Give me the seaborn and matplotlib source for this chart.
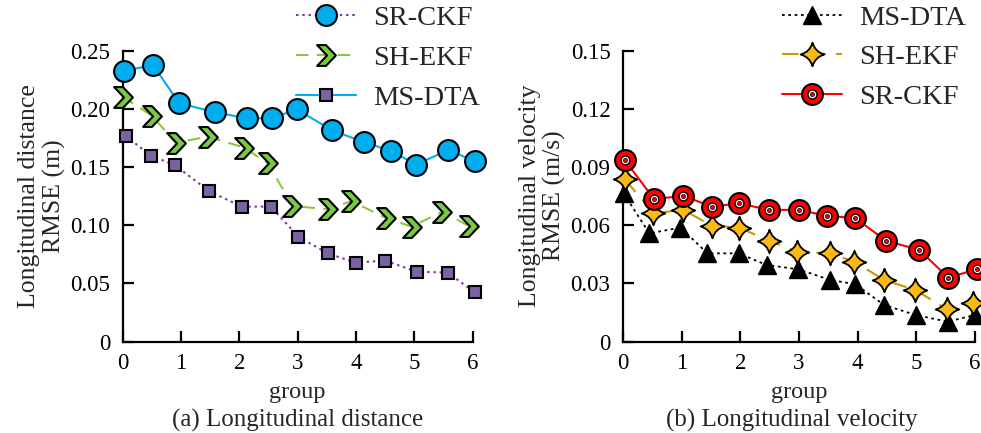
import numpy as np
import pandas as pd
import seaborn as sns
import matplotlib
matplotlib.use("Agg")
import matplotlib.pyplot as plt
from matplotlib.path import Path
from matplotlib.lines import Line2D

# ---- data (a) longitudinal distance ----
dist_srckf_x = [0.02, 0.52, 0.97, 1.59, 2.13, 2.56, 2.98, 3.59, 4.14, 4.59, 5.03, 5.58, 6.04]
dist_srckf_y = [0.2325, 0.2377, 0.2048, 0.197, 0.1919, 0.1919, 0.1996, 0.1816, 0.1712, 0.1641, 0.1521, 0.1647, 0.1549]
dist_shekf_x = [0.0, 0.50, 0.91, 1.47, 2.08, 2.49, 2.91, 3.52, 3.92, 4.52, 4.95, 5.48, 5.93]
dist_shekf_y = [0.2105, 0.1942, 0.171, 0.1761, 0.1667, 0.1532, 0.1166, 0.1137, 0.1208, 0.106, 0.0988, 0.1117, 0.0994]
dist_msdta_x = [0.05, 0.48, 0.89, 1.48, 2.04, 2.54, 3.01, 3.51, 3.99, 4.5, 5.04, 5.57, 6.03]
dist_msdta_y = [0.177, 0.1598, 0.1518, 0.1294, 0.116, 0.116, 0.0902, 0.0759, 0.0679, 0.0696, 0.0601, 0.0593, 0.0424]

# ---- data (b) longitudinal velocity ----
vel_srckf_x = [0.03, 0.53, 1.03, 1.52, 1.98, 2.49, 3.0, 3.48, 3.96, 4.49, 5.05, 5.54, 6.03]
vel_srckf_y = [0.0936, 0.0735, 0.0751, 0.0696, 0.0713, 0.0679, 0.0679, 0.0649, 0.0636, 0.0519, 0.0473, 0.033, 0.0373]
vel_shekf_x = [0.03, 0.52, 1.03, 1.51, 1.98, 2.48, 2.97, 3.53, 3.94, 4.45, 4.98, 5.52, 5.97]
vel_shekf_y = [0.0838, 0.0662, 0.0679, 0.0598, 0.0588, 0.0521, 0.0464, 0.0455, 0.0412, 0.0318, 0.0266, 0.0167, 0.0201]
vel_msdta_x = [0.01, 0.45, 0.98, 1.44, 1.97, 2.45, 2.99, 3.53, 3.96, 4.45, 4.99, 5.53, 5.99]
vel_msdta_y = [0.0765, 0.0558, 0.0588, 0.0455, 0.0455, 0.0395, 0.0373, 0.0318, 0.0296, 0.0189, 0.0137, 0.0103, 0.0137]

x_ticks = [0, 1, 2, 3, 4, 5, 6]
dist_ticks = [0, 0.05, 0.10, 0.15, 0.20, 0.25]
dist_labels = ["0", "0.05", "0.10", "0.15", "0.20", "0.25"]
vel_ticks = [0, 0.03, 0.06, 0.09, 0.12, 0.15]
vel_labels = ["0", "0.03", "0.06", "0.09", "0.12", "0.15"]

# custom markers
chevron = Path([(-0.9, 1), (-0.05, 1), (0.9, 0), (-0.05, -1), (-0.9, -1), (0.05, 0), (-0.9, 1)],
               [Path.MOVETO] + [Path.LINETO] * 5 + [Path.CLOSEPOLY])
c = 0.22
star4 = Path([(0, 1), (c, c), (1, 0), (c, -c), (0, -1), (-c, -c), (-1, 0), (-c, c), (0, 1), (0, 1)],
             [Path.MOVETO] + [Path.CURVE3] * 8 + [Path.CLOSEPOLY])

BLUE = "#00aeef"
GREEN = "#8cc63f"
PURPLE = "#7b62a3"
PURPLE_LN = "#7a3fa0"
RED = "#ff0000"
GOLD = "#fdb913"
GOLD_LN = "#c49a00"

sns.set_style("ticks")
plt.rcParams["font.family"] = ["Liberation Serif", "DejaVu Serif"]

fig = plt.figure(figsize=(9.81, 4.33), dpi=100)
ax1 = fig.add_axes([0.125, 0.211, 0.357, 0.672])
ax2 = fig.add_axes([0.635, 0.211, 0.359, 0.672])

common = dict(estimator=None, sort=False, clip_on=False, markeredgecolor="black")

# (a)
sns.lineplot(x=dist_srckf_x, y=dist_srckf_y, ax=ax1, color=BLUE, lw=1.5, marker="o", markersize=15,
             markerfacecolor=BLUE, markeredgewidth=1.5, zorder=5, **common)
sns.lineplot(x=dist_shekf_x, y=dist_shekf_y, ax=ax1, color=GREEN, lw=1.5, linestyle=(0, (6, 4)),
             marker=chevron, markersize=15, markerfacecolor="#7ac943", markeredgewidth=1.5, zorder=4, **common)
sns.lineplot(x=dist_msdta_x, y=dist_msdta_y, ax=ax1, color=PURPLE_LN, lw=1.5, linestyle=(0, (1.2, 1.8)),
             marker="s", markersize=9, markerfacecolor=PURPLE, markeredgewidth=1.5, zorder=4, **common)

# (b)
sns.lineplot(x=vel_msdta_x, y=vel_msdta_y, ax=ax2, color="black", lw=1.3, linestyle=(0, (1.5, 2)),
             marker="^", markersize=13, markerfacecolor="black", markeredgewidth=1, zorder=4, **common)
sns.lineplot(x=vel_shekf_x, y=vel_shekf_y, ax=ax2, color=GOLD_LN, lw=1.5, linestyle=(0, (8, 5)),
             marker=star4, markersize=17, markerfacecolor=GOLD, markeredgewidth=1.3, zorder=4, **common)
sns.lineplot(x=vel_srckf_x, y=vel_srckf_y, ax=ax2, color=RED, lw=1.5,
             marker="o", markersize=15, markerfacecolor=RED, markeredgewidth=1.5, zorder=5, **common)
sns.scatterplot(x=vel_srckf_x, y=vel_srckf_y, ax=ax2, s=40, color="white", edgecolor="black",
                linewidth=1, zorder=6, clip_on=False)
sns.scatterplot(x=vel_srckf_x, y=vel_srckf_y, ax=ax2, s=9, color=RED, edgecolor="black",
                linewidth=0.5, zorder=7, clip_on=False)

for ax, ticks, labels in [(ax1, dist_ticks, dist_labels), (ax2, vel_ticks, vel_labels)]:
    ax.set_xlim(0, 6)
    ax.set_ylim(0, ticks[-1])
    ax.set_xticks(x_ticks)
    ax.set_yticks(ticks)
    ax.set_yticklabels(labels)
    sns.despine(ax=ax)
    for s in ["left", "bottom"]:
        ax.spines[s].set_linewidth(1.6)
        ax.spines[s].set_color("black")
    ax.tick_params(direction="in", length=8, width=1.6, labelsize=16.5, colors="black")
    ax.tick_params(axis="x", pad=8)
    ax.tick_params(axis="y", pad=9)
    ax.set_xlabel("group", fontsize=17.5, labelpad=6)
    ax.set_facecolor("white")

ax1.set_ylabel("Longitudinal distance\nRMSE (m)", fontsize=18.5, labelpad=3, linespacing=1.15)
ax2.set_ylabel("Longitudinal velocity\nRMSE (m/s)", fontsize=18.5, labelpad=3, linespacing=1.15)

ax1.text(0.5, -0.293, "(a) Longitudinal distance", transform=ax1.transAxes, ha="center", va="baseline", fontsize=18)
ax2.text(0.48, -0.293, "(b) Longitudinal velocity", transform=ax2.transAxes, ha="center", va="baseline", fontsize=18)

# legends (left one keeps the original mismatched handles)
h1 = [Line2D([], [], color=PURPLE_LN, lw=1.5, linestyle=(0, (1.2, 1.8)), marker="o", markersize=15,
             markerfacecolor=BLUE, markeredgecolor="black", markeredgewidth=1.5),
      Line2D([], [], color=GREEN, lw=1.5, linestyle=(0, (6, 4)), marker=chevron, markersize=15,
             markerfacecolor="#7ac943", markeredgecolor="black", markeredgewidth=1.5),
      Line2D([], [], color=BLUE, lw=1.5, marker="s", markersize=9,
             markerfacecolor=PURPLE, markeredgecolor="black", markeredgewidth=1.5)]
fig.legend(h1, ["SR-CKF", "SH-EKF", "MS-DTA"], loc="upper left", bbox_to_anchor=(0.3017, 0.988),
           frameon=False, fontsize=20.5, handlelength=2.1, handletextpad=0.6, labelspacing=0.5,
           borderpad=0, borderaxespad=0)

h2 = [Line2D([], [], color="black", lw=1.3, linestyle=(0, (1.5, 2)), marker="^", markersize=13,
             markerfacecolor="black", markeredgecolor="black"),
      Line2D([], [], color=GOLD_LN, lw=1.5, linestyle=(0, (8, 5)), marker=star4, markersize=17,
             markerfacecolor=GOLD, markeredgecolor="black", markeredgewidth=1.3),
      (Line2D([], [], color=RED, lw=1.5, marker="o", markersize=15, markerfacecolor=RED,
              markeredgecolor="black", markeredgewidth=1.5),
       Line2D([], [], linestyle="none", marker="o", markersize=6.5, markerfacecolor="white",
              markeredgecolor="black", markeredgewidth=1),
       Line2D([], [], linestyle="none", marker="o", markersize=3, markerfacecolor=RED,
              markeredgecolor="black", markeredgewidth=0.5))]
fig.legend(h2, ["MS-DTA", "SH-EKF", "SR-CKF"], loc="upper left", bbox_to_anchor=(0.797, 0.988),
           frameon=False, fontsize=20.5, handlelength=2.1, handletextpad=0.62, labelspacing=0.47,
           borderpad=0, borderaxespad=0)

fig.savefig("out.png", dpi=100, facecolor="white")
